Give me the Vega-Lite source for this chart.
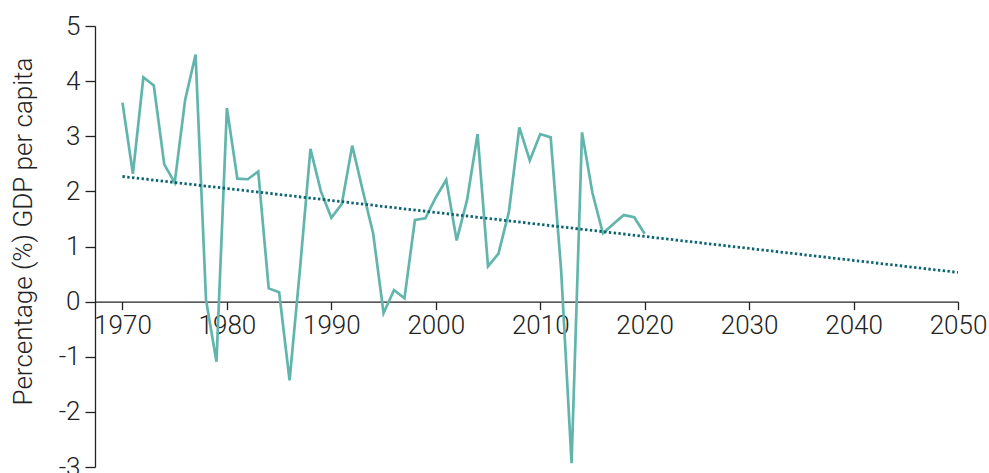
{
  "$schema": "https://vega.github.io/schema/vega-lite/v6.json",
  "autosize": {"type": "none"},
  "padding": {"left": 95, "top": 26, "right": 31, "bottom": 6},
  "width": 863,
  "height": 441,
  "background": "white",
  "config": {
    "view": {"stroke": null},
    "font": "Roboto",
    "axis": {
      "grid": false,
      "domainColor": "#222222",
      "domainWidth": 1.3,
      "tickColor": "#222222",
      "tickWidth": 1.3,
      "labelColor": "#222222",
      "labelFont": "Roboto",
      "labelFontWeight": 300,
      "labelFontSize": 26,
      "titleFont": "Roboto",
      "titleFontWeight": 300,
      "titleColor": "#222222",
      "titleFontSize": 26
    }
  },
  "datasets": {
    "gdp": [
      {"year": 1970, "value": 3.61}, {"year": 1971, "value": 2.32}, {"year": 1972, "value": 4.07},
      {"year": 1973, "value": 3.92}, {"year": 1974, "value": 2.49}, {"year": 1975, "value": 2.16},
      {"year": 1976, "value": 3.66}, {"year": 1977, "value": 4.48}, {"year": 1978, "value": 0.03},
      {"year": 1979, "value": -1.09}, {"year": 1980, "value": 3.51}, {"year": 1981, "value": 2.23},
      {"year": 1982, "value": 2.22}, {"year": 1983, "value": 2.36}, {"year": 1984, "value": 0.24},
      {"year": 1985, "value": 0.17}, {"year": 1986, "value": -1.43}, {"year": 1987, "value": 0.6},
      {"year": 1988, "value": 2.77}, {"year": 1989, "value": 2.0}, {"year": 1990, "value": 1.52},
      {"year": 1991, "value": 1.77}, {"year": 1992, "value": 2.83}, {"year": 1993, "value": 2.02},
      {"year": 1994, "value": 1.24}, {"year": 1995, "value": -0.21}, {"year": 1996, "value": 0.21},
      {"year": 1997, "value": 0.06}, {"year": 1998, "value": 1.48}, {"year": 1999, "value": 1.51},
      {"year": 2000, "value": 1.89}, {"year": 2001, "value": 2.21}, {"year": 2002, "value": 1.11},
      {"year": 2003, "value": 1.85}, {"year": 2004, "value": 3.04}, {"year": 2005, "value": 0.64},
      {"year": 2006, "value": 0.87}, {"year": 2007, "value": 1.63}, {"year": 2008, "value": 3.16},
      {"year": 2009, "value": 2.56}, {"year": 2010, "value": 3.04}, {"year": 2011, "value": 2.98},
      {"year": 2012, "value": 0.57}, {"year": 2013, "value": -2.93}, {"year": 2014, "value": 3.07},
      {"year": 2015, "value": 1.97}, {"year": 2016, "value": 1.24}, {"year": 2017, "value": 1.41},
      {"year": 2018, "value": 1.57}, {"year": 2019, "value": 1.53}, {"year": 2020, "value": 1.23}
    ],
    "trend": [
      {"year": 1970, "value": 2.27},
      {"year": 2050, "value": 0.53}
    ]
  },
  "encoding": {
    "x": {
      "field": "year",
      "type": "quantitative",
      "scale": {"domain": [1967.37, 2050], "nice": false, "zero": false},
      "axis": {
        "values": [1970, 1980, 1990, 2000, 2010, 2020, 2030, 2040, 2050],
        "format": "d",
        "title": null,
        "offset": -165.4,
        "tickSize": 8,
        "labelPadding": 3,
        "labelFlush": false,
        "labelOverlap": false
      }
    },
    "y": {
      "field": "value",
      "type": "quantitative",
      "scale": {"domain": [-3, 5], "nice": false},
      "axis": {
        "values": [-3, -2, -1, 0, 1, 2, 3, 4, 5],
        "labelExpr": "'' + datum.value",
        "title": "Percentage (%) GDP per capita",
        "tickSize": 10,
        "labelPadding": 5,
        "titleX": -59,
        "titleY": 205,
        "titleAngle": -90,
        "titleAlign": "center",
        "titleBaseline": "bottom"
      }
    }
  },
  "layer": [
    {
      "data": {"name": "gdp"},
      "mark": {"type": "line", "color": "#62b5ac", "strokeWidth": 2.7},
      "encoding": {}
    },
    {
      "data": {"name": "trend"},
      "mark": {"type": "line", "color": "#0b6571", "strokeWidth": 2.8, "strokeDash": [2.4, 2.4]},
      "encoding": {}
    }
  ]
}
